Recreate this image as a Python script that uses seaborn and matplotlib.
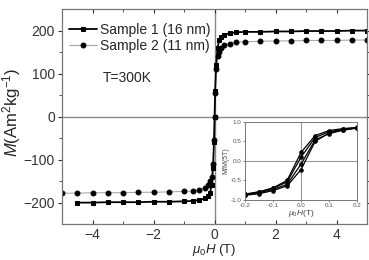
import numpy as np
import pandas as pd
import seaborn as sns
import matplotlib.pyplot as plt

# main loop data (T=300K)
field = [-5, -4.5, -4, -3.5, -3, -2.5, -2, -1.5, -1, -0.7, -0.5, -0.3, -0.2, -0.15, -0.1, -0.05, -0.02,
         0, 0.02, 0.05, 0.1, 0.15, 0.2, 0.3, 0.5, 0.7, 1, 1.5, 2, 2.5, 3, 3.5, 4, 4.5, 5]
m_s1 = [np.nan, -200, -200, -199, -199, -199, -198, -198, -197, -196, -194, -190, -185, -178, -160, -120, -60,
        0, 60, 120, 160, 178, 185, 190, 194, 196, 197, 197, 198, 198, 199, 199, 199, 200, 200]
m_s2 = [-178, -178, -177, -177, -177, -176, -176, -175, -174, -173, -170, -166, -160, -150, -140, -110, -55,
        0, 55, 110, 140, 150, 160, 166, 170, 173, 174, 175, 176, 176, 177, 177, 177, 178, 178]

# inset: normalised loops
field_in = [-0.2, -0.15, -0.1, -0.05, 0, 0.05, 0.1, 0.15, 0.2]
loop_a = [-0.86, -0.80, -0.69, -0.50, 0.22, 0.65, 0.78, 0.83, 0.86]
loop_b = [-0.88, -0.84, -0.76, -0.64, -0.22, 0.50, 0.72, 0.80, 0.85]
loop_c = [-0.85, -0.79, -0.70, -0.54, 0.10, 0.60, 0.75, 0.81, 0.85]
loop_d = [-0.87, -0.82, -0.73, -0.60, -0.08, 0.54, 0.70, 0.79, 0.84]

sns.set_style("ticks")
plt.rcParams['font.family'] = ['Liberation Sans', 'DejaVu Sans']
plt.rcParams['mathtext.fontset'] = 'custom'
plt.rcParams['mathtext.rm'] = 'Liberation Sans'
plt.rcParams['mathtext.it'] = 'Liberation Sans:italic'

fig = plt.figure(figsize=(3.69, 2.6), dpi=100)
ax = fig.add_axes([0.168, 0.138, 0.827, 0.827])

ax.axhline(0, color='#888888', lw=1, zorder=0)
ax.axvline(0, color='#888888', lw=1, zorder=0)

df = pd.DataFrame({'H': field, 's1': m_s1, 's2': m_s2})
sns.lineplot(data=df, x='H', y='s2', ax=ax, color='#aaaaaa', lw=0.8, marker='o', markersize=3.5,
             markerfacecolor='black', markeredgecolor='black', label='Sample 2 (11 nm)', sort=False)
sns.lineplot(data=df.dropna(), x='H', y='s1', ax=ax, color='black', lw=1.3, marker='s', markersize=3,
             markerfacecolor='black', markeredgecolor='black', label='Sample 1 (16 nm)', sort=False)

ax.set_xlim(-5, 5)
ax.set_ylim(-250, 250)
ax.set_xticks([-4, -2, 0, 2, 4])
ax.set_xticks([-5, -3, -1, 1, 3, 5], minor=True)
ax.set_yticks([-200, -100, 0, 100, 200])
ax.set_yticks([-150, -50, 50, 150], minor=True)
ax.tick_params(which='both', top=True, right=True, direction='in', labelsize=10, colors='#333333', pad=3)
ax.tick_params(axis='y', which='both', left=True, direction='out', pad=2)
ax.tick_params(which='major', length=3)
ax.tick_params(which='minor', length=2)
for s in ax.spines.values():
    s.set_color('#777777')
    s.set_linewidth(0.9)

ax.set_ylabel(r'$M$(Am$^2$kg$^{-1}$)', fontsize=12)
ax.yaxis.set_label_coords(-0.128, 0.52)
ax.set_xlabel(r'$\mu_0H$ (T)', fontsize=9.5, labelpad=0)
ax.text(-2.85, 90, 'T=300K', fontsize=10, ha='center', va='center')

h, l = ax.get_legend_handles_labels()
ax.legend(h[::-1], l[::-1], loc='upper left', frameon=False, fontsize=10, handlelength=2.0,
          borderaxespad=0.0, borderpad=0.3, labelspacing=0.15, handletextpad=0.25,
          bbox_to_anchor=(0.01, 0.955))

# inset
ins = fig.add_axes([0.664, 0.231, 0.304, 0.3])
ins.axhline(0, color='#999999', lw=0.8, zorder=0)
ins.axvline(0, color='#999999', lw=0.8, zorder=0)
for loop in [loop_a, loop_b, loop_c, loop_d]:
    sns.lineplot(x=field_in, y=loop, ax=ins, color='black', lw=0.9, marker='o', markersize=2.5,
                 markeredgecolor='black', sort=False, estimator=None)
ins.set_xlim(-0.2, 0.2)
ins.set_ylim(-1.0, 1.0)
ins.set_xticks([-0.2, -0.1, 0.0, 0.1, 0.2])
ins.set_yticks([-1.0, -0.5, 0.0, 0.5, 1.0])
ins.set_xticklabels(['-0.2', '-0.1', '0.0', '0.1', '0.2'])
ins.set_yticklabels(['-1.0', '-0.5', '0.0', '0.5', '1.0'])
ins.tick_params(labelsize=4.5, length=1.5, width=0.5, pad=1, colors='#555555')
for s in ins.spines.values():
    s.set_color('#777777')
    s.set_linewidth(0.7)
ins.set_ylabel('M/M(5T)', fontsize=5, labelpad=1, color='#444444')
ins.set_xlabel(r'$\mu_0H$(T)', fontsize=6, labelpad=0, color='#444444')

fig.savefig('out.png', dpi=100)
